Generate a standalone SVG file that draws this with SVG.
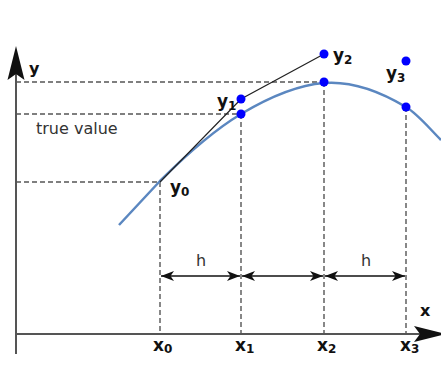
<svg xmlns="http://www.w3.org/2000/svg" width="441" height="366" viewBox="0 0 441 366">
<defs>
<style>
.dash{stroke:#555;stroke-width:1.4;stroke-dasharray:5 3;fill:none}
.axis{stroke:#555;stroke-width:2;fill:none}
.dim{stroke:#111;stroke-width:1.4;fill:none;marker-start:url(#ah);marker-end:url(#ah)}
.dot{fill:#0000ff}
.lbl{font-family:"DejaVu Sans",sans-serif;font-weight:bold;fill:#111}
.txt{font-family:"DejaVu Sans",sans-serif;fill:#333;font-size:16px}
</style>
<marker id="ah" viewBox="0 0 14 10" refX="13" refY="5" markerWidth="14" markerHeight="10" markerUnits="userSpaceOnUse" orient="auto-start-reverse">
<path d="M13,5 L0,0 L3.5,5 L0,10 Z" fill="#111"/>
</marker>
</defs>
<g id="axes">
<line class="axis" x1="16" y1="70" x2="16" y2="354"/>
<line class="axis" x1="16" y1="334" x2="420" y2="334"/>
<path d="M16,46 L24.5,80 L16,74 L7.5,80 Z" fill="#111"/>
<path d="M446,334 L414,342 L420,334 L414,326 Z" fill="#111"/>
<text class="lbl" x="29" y="74" font-size="16">y</text>
<text class="lbl" x="420" y="316" font-size="16">x</text>
</g>
<g id="connectors">
<line class="dash" x1="16" y1="82" x2="324" y2="82"/>
<line class="dash" x1="16" y1="114" x2="241" y2="114"/>
<line class="dash" x1="16" y1="182" x2="160" y2="182"/>
<line class="dash" x1="160" y1="182" x2="160" y2="334"/>
<line class="dash" x1="241" y1="114" x2="241" y2="334"/>
<line class="dash" x1="324" y1="82" x2="324" y2="334"/>
<line class="dash" x1="406" y1="107" x2="406" y2="334"/>
<line class="dim" x1="161" y1="276" x2="240" y2="276"/>
<line class="dim" x1="242" y1="276" x2="323" y2="276"/>
<line class="dim" x1="325" y1="276" x2="405" y2="276"/>
</g>
<g id="curve">
<path d="M119,225 C132.7,210.3 146.3,195.7 160,181 C187,154 214,130.2 241,114 C268.7,97.4 296.3,85.2 324,83 C351.3,80.8 378.7,90.6 406,107 C417.7,114 429.3,128.3 441,140" fill="none" stroke="#5b87c0" stroke-width="2.5"/>
</g>
<g id="euler">
<polyline points="160,182 241,99 324,54" fill="none" stroke="#222" stroke-width="1.2"/>
</g>
<g id="points">
<circle class="dot" cx="241" cy="99" r="4.5"/>
<circle class="dot" cx="241" cy="114" r="4.5"/>
<circle class="dot" cx="324" cy="54" r="4.5"/>
<circle class="dot" cx="324" cy="82" r="4.5"/>
<circle class="dot" cx="406" cy="61" r="4.5"/>
<circle class="dot" cx="406" cy="107" r="4.5"/>
</g>
<g id="labels">
<text class="txt" x="36" y="134">true value</text>
<text class="txt" x="196" y="266">h</text>
<text class="txt" x="361" y="266">h</text>
<text class="lbl" x="170" y="193" font-size="17">y<tspan font-size="12" dy="3">0</tspan></text>
<text class="lbl" x="217" y="107" font-size="17">y<tspan font-size="12" dy="3">1</tspan></text>
<text class="lbl" x="333" y="61" font-size="17">y<tspan font-size="12" dy="3">2</tspan></text>
<text class="lbl" x="386" y="79" font-size="17">y<tspan font-size="12" dy="3">3</tspan></text>
<text class="lbl" x="153" y="351" font-size="17">x<tspan font-size="12" dy="2">0</tspan></text>
<text class="lbl" x="235" y="351" font-size="17">x<tspan font-size="12" dy="2">1</tspan></text>
<text class="lbl" x="317" y="351" font-size="17">x<tspan font-size="12" dy="2">2</tspan></text>
<text class="lbl" x="400" y="351" font-size="17">x<tspan font-size="12" dy="2">3</tspan></text>
</g>
</svg>
